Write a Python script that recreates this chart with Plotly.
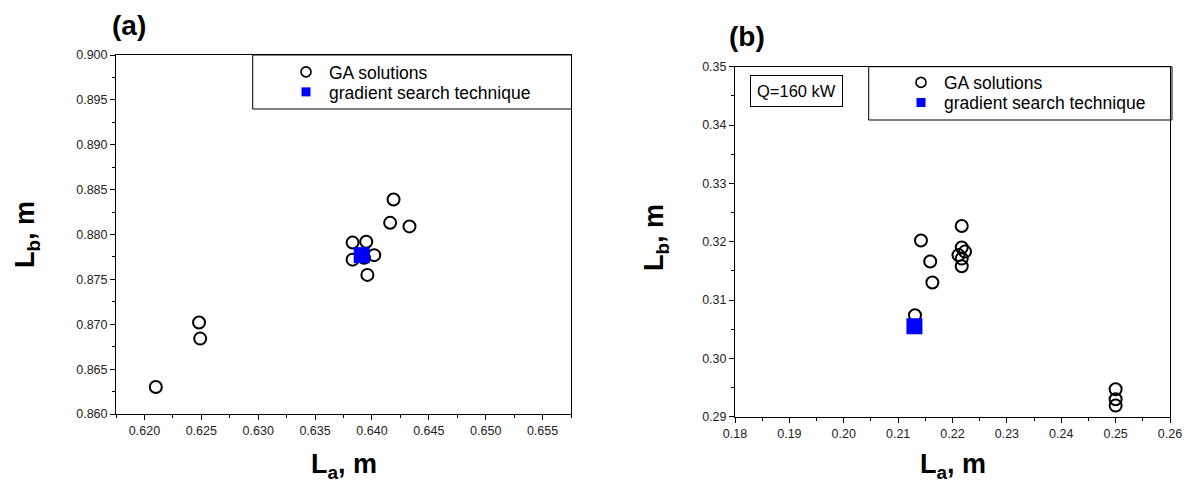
import plotly.graph_objects as go

# ---------------- data ----------------
# panel (a)
ga_a_x = [0.6210, 0.6248, 0.6249, 0.6383, 0.6395, 0.6383, 0.6393, 0.6402, 0.6396, 0.6416, 0.6419, 0.6433]
ga_a_y = [0.8630, 0.8702, 0.8684, 0.8791, 0.8792, 0.8772, 0.8774, 0.8777, 0.8755, 0.8813, 0.8839, 0.8809]
gs_a_x = [0.6391]
gs_a_y = [0.8777]

# panel (b)
ga_b_x = [0.2142, 0.2159, 0.2163, 0.2131, 0.2217, 0.2217, 0.2223, 0.2211, 0.2217, 0.2217, 0.2500, 0.2500, 0.2500]
ga_b_y = [0.3202, 0.3166, 0.3130, 0.3074, 0.3227, 0.3190, 0.3183, 0.3177, 0.3171, 0.3158, 0.2947, 0.2930, 0.2919]
gs_b_x = [0.2130]
gs_b_y = [0.3055]

series_names = ["GA solutions", "gradient search technique"]

W, H = 1192, 489
FONT = "Liberation Sans, Arial, sans-serif"


def px(x):
    return x / W


def py(y):
    return (H - y) / H


fig = go.Figure()

circle = dict(symbol="circle-open", size=12, color="black", line=dict(width=2, color="black"))
square = dict(symbol="square", size=16, color="#0000ff", line=dict(width=0))
circle_leg = dict(symbol="circle-open", size=10, color="black", line=dict(width=1.6, color="black"))
square_leg = dict(symbol="square", size=9, color="#0000ff", line=dict(width=0))

for xa, ya, lg1, lg2, gx, gy, sx, sy in [
        ("x", "y", "legend", "legend3", ga_a_x, ga_a_y, gs_a_x, gs_a_y),
        ("x2", "y2", "legend2", "legend4", ga_b_x, ga_b_y, gs_b_x, gs_b_y)]:
    fig.add_trace(go.Scatter(x=gx, y=gy, mode="markers", name=series_names[0],
                             marker=circle, xaxis=xa, yaxis=ya, showlegend=False))
    fig.add_trace(go.Scatter(x=sx, y=sy, mode="markers", name=series_names[1],
                             marker=square, xaxis=xa, yaxis=ya, showlegend=False))
    # legend entries (same series, smaller legend symbols)
    fig.add_trace(go.Scatter(x=[None], y=[None], mode="markers", name=series_names[0],
                             marker=circle_leg, xaxis=xa, yaxis=ya, legend=lg1))
    fig.add_trace(go.Scatter(x=[None], y=[None], mode="markers", name=series_names[1],
                             marker=square_leg, xaxis=xa, yaxis=ya, legend=lg2))

axis_common = dict(
    showline=True, linecolor="black", linewidth=1, mirror=True,
    ticks="outside", ticklen=5, tickwidth=1, tickcolor="black",
    showgrid=False, zeroline=False, automargin=False,
    tickfont=dict(family=FONT, size=12.5, color="#222"),
)

leg_common = dict(xanchor="left", yanchor="top", bgcolor="rgba(0,0,0,0)", borderwidth=0,
                  font=dict(family=FONT, size=17.5, color="black"), tracegroupgap=0,
                  itemwidth=36)

fig.update_layout(
    width=W, height=H,
    margin=dict(l=0, r=0, t=0, b=0, autoexpand=False),
    paper_bgcolor="white", plot_bgcolor="white",
    font=dict(family=FONT, color="black"),
    xaxis=dict(domain=[px(116), px(571)], range=[0.6175, 0.6575], dtick=0.005, tick0=0.62,
               tickformat=".3f", anchor="y",
               minor=dict(ticks="outside", ticklen=3, tickcolor="black", dtick=0.0025, tick0=0.62),
               **axis_common),
    yaxis=dict(domain=[py(414), py(55)], range=[0.860, 0.900], dtick=0.005, tick0=0.86,
               tickformat=".3f", anchor="x",
               minor=dict(ticks="outside", ticklen=3, tickcolor="black", dtick=0.0025, tick0=0.86),
               **axis_common),
    xaxis2=dict(domain=[px(735), px(1170)], range=[0.18, 0.26], dtick=0.01, tick0=0.18,
                tickformat=".2f", anchor="y2",
                minor=dict(ticks="outside", ticklen=3, tickcolor="black", dtick=0.005, tick0=0.18),
                **axis_common),
    yaxis2=dict(domain=[py(416.7), py(66.7)], range=[0.29, 0.35], dtick=0.01, tick0=0.29,
                tickformat=".2f", anchor="x2",
                minor=dict(ticks="outside", ticklen=3, tickcolor="black", dtick=0.005, tick0=0.29),
                **axis_common),
    legend=dict(x=px(283), y=py(54), **leg_common),
    legend3=dict(x=px(283), y=py(74), **leg_common),
    legend2=dict(x=px(898), y=py(64.5), **leg_common),
    legend4=dict(x=px(898), y=py(84.5), **leg_common),
    showlegend=True,
)

# legend frames
fig.add_shape(type="rect", xref="paper", yref="paper",
              x0=px(252.7), x1=px(571.5), y0=py(109), y1=py(55),
              line=dict(color="black", width=1), fillcolor="rgba(0,0,0,0)")
fig.add_shape(type="rect", xref="paper", yref="paper",
              x0=px(868.7), x1=px(1172), y0=py(120), y1=py(66.7),
              line=dict(color="black", width=1), fillcolor="rgba(0,0,0,0)")

ann = []
ann.append(dict(text="<b>(a)</b>", x=px(110), y=py(25), xref="paper", yref="paper",
                xanchor="left", yanchor="middle", showarrow=False,
                font=dict(family=FONT, size=28, color="black")))
ann.append(dict(text="<b>(b)</b>", x=px(727), y=py(36), xref="paper", yref="paper",
                xanchor="left", yanchor="middle", showarrow=False,
                font=dict(family=FONT, size=28, color="black")))
ann.append(dict(text="<b>L<sub>a</sub>, m</b>", x=px(343.5), y=py(466), xref="paper", yref="paper",
                xanchor="center", yanchor="middle", showarrow=False,
                font=dict(family=FONT, size=27, color="black")))
ann.append(dict(text="<b>L<sub>a</sub>, m</b>", x=px(952.5), y=py(466), xref="paper", yref="paper",
                xanchor="center", yanchor="middle", showarrow=False,
                font=dict(family=FONT, size=27, color="black")))
ann.append(dict(text="<b>L<sub>b</sub>, m</b>", x=px(27), y=py(235), xref="paper", yref="paper",
                xanchor="center", yanchor="middle", showarrow=False, textangle=-90,
                font=dict(family=FONT, size=27, color="black")))
ann.append(dict(text="<b>L<sub>b</sub>, m</b>", x=px(656), y=py(238), xref="paper", yref="paper",
                xanchor="center", yanchor="middle", showarrow=False, textangle=-90,
                font=dict(family=FONT, size=27, color="black")))
ann.append(dict(text="Q=160 kW", x=px(796.5), y=py(91), xref="paper", yref="paper",
                xanchor="center", yanchor="middle", showarrow=False,
                bordercolor="black", borderwidth=1, borderpad=6, bgcolor="white",
                font=dict(family=FONT, size=16.5, color="black")))
fig.update_layout(annotations=ann)

fig.write_html("out.html",
               config={"displayModeBar": False},
               post_script="document.body.style.margin='0';document.body.style.padding='0';"
                           "document.body.style.overflow='hidden';")
